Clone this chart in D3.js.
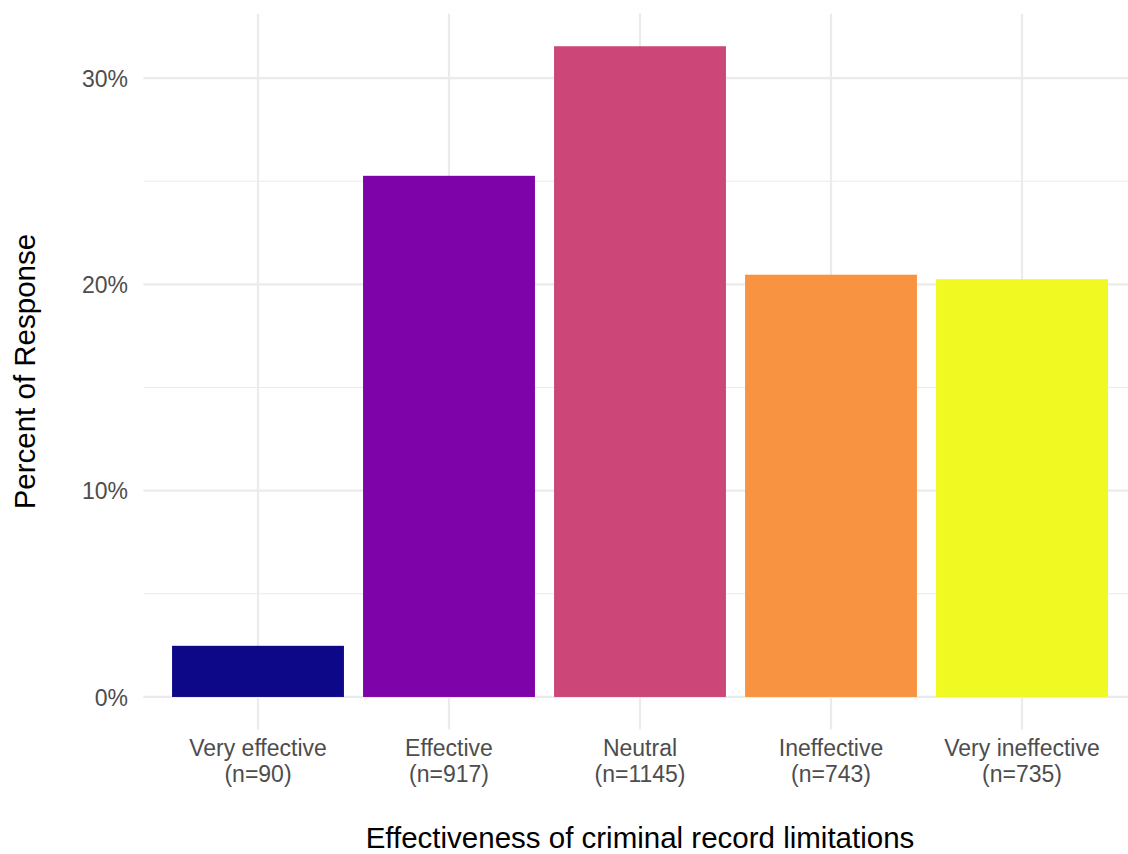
<!DOCTYPE html>
<html>
<head>
<meta charset="utf-8">
<script src="https://cdn.jsdelivr.net/npm/d3@7"></script>
<style>
  html, body { margin: 0; padding: 0; background: #fff; overflow: hidden; }
  svg { display: block; font-family: "Liberation Sans", Arial, sans-serif; }
</style>
</head>
<body>
<svg id="chart" width="1128" height="854"></svg>
<script>
const categories = ["Very effective", "Effective", "Neutral", "Ineffective", "Very ineffective"];
const counts = [90, 917, 1145, 743, 735];
const colors = ["#0D0887", "#7E03A8", "#CC4678", "#F89441", "#F0F921"];
const yTicks = [0, 0.10, 0.20, 0.30];
const yMinor = [0.05, 0.15, 0.25];
const xTitle = "Effectiveness of criminal record limitations";
const yTitle = "Percent of Response";

const total = d3.sum(counts);
const shares = counts.map(c => c / total);

const svg = d3.select("#chart");
const panel = { left: 143.4, right: 1136.6, top: 13.7, bottom: 729.5 };

const maxV = d3.max(shares);
const pad = maxV * 0.05;
const y = d3.scaleLinear().domain([-pad, maxV + pad]).range([panel.bottom, panel.top]);

const step = (panel.right - panel.left) / (categories.length + 0.2);
const x = d3.scaleBand().domain(categories)
  .range([panel.left + 0.1 * step, panel.right - 0.1 * step])
  .paddingInner(0.1).paddingOuter(0.05);

const grid = svg.append("g");
grid.selectAll("line.minor").data(yMinor).join("line")
  .attr("x1", panel.left).attr("x2", panel.right)
  .attr("y1", d => y(d)).attr("y2", d => y(d))
  .attr("stroke", "#ebebeb").attr("stroke-width", 1.1);
grid.selectAll("line.major").data(yTicks).join("line")
  .attr("x1", panel.left).attr("x2", panel.right)
  .attr("y1", d => y(d)).attr("y2", d => y(d))
  .attr("stroke", "#ebebeb").attr("stroke-width", 2.2);
grid.selectAll("line.vmajor").data(categories).join("line")
  .attr("x1", d => x(d) + x.bandwidth() / 2).attr("x2", d => x(d) + x.bandwidth() / 2)
  .attr("y1", panel.top).attr("y2", panel.bottom)
  .attr("stroke", "#ebebeb").attr("stroke-width", 2.2);

svg.append("g").selectAll("rect").data(categories).join("rect")
  .attr("x", d => x(d))
  .attr("width", x.bandwidth())
  .attr("y", (d, i) => y(shares[i]))
  .attr("height", (d, i) => y(0) - y(shares[i]))
  .attr("fill", (d, i) => colors[i]);

// y axis labels
const yAxis = d3.axisLeft(y).tickValues(yTicks).tickFormat(d3.format(".0%")).tickSize(0).tickPadding(0);
const gy = svg.append("g").attr("transform", `translate(${128},0)`).call(yAxis);
gy.select(".domain").remove();
gy.selectAll("text").attr("fill", "#4d4d4d").attr("font-size", "23px")
  .attr("font-family", "Liberation Sans, Arial, sans-serif").attr("dy", "0.36em");

// x axis labels
const xAxis = d3.axisBottom(x).tickSize(0).tickFormat("");
const gx = svg.append("g").attr("transform", `translate(0,${panel.bottom})`).call(xAxis);
gx.select(".domain").remove();
gx.selectAll(".tick text").remove();
gx.selectAll(".tick").each(function(d, i) {
  const t = d3.select(this).append("text")
    .attr("text-anchor", "middle").attr("fill", "#4d4d4d").attr("font-size", "23px")
    .attr("font-family", "Liberation Sans, Arial, sans-serif");
  t.append("tspan").attr("x", 0).attr("y", 756 - panel.bottom).text(d);
  t.append("tspan").attr("x", 0).attr("y", 781.5 - panel.bottom).text(`(n=${counts[i]})`);
});

svg.append("text").attr("x", (panel.left + panel.right) / 2).attr("y", 848)
  .attr("text-anchor", "middle").attr("font-size", "29.5px").attr("fill", "#000").text(xTitle);

svg.append("text").attr("transform", `translate(35,${(panel.top + panel.bottom) / 2}) rotate(-90)`)
  .attr("text-anchor", "middle").attr("font-size", "29.5px").attr("fill", "#000").text(yTitle);
</script>
</body>
</html>
